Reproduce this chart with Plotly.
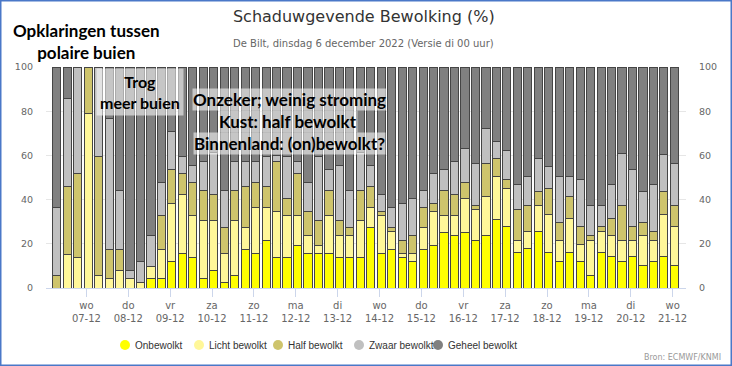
import plotly.graph_objects as go
import pandas as pd

# ---- data (percent of ensemble per cloud class, 6-hourly) ----
start_time = "2022-12-06 07:00"
n_steps = 60

onbewolkt = [0, 0, 0, 0, 0, 0, 0, 0, 0, 4.2, 4.2, 11.8, 15.6, 13.8, 4.2, 8.0, 2.4, 5.7, 17.5, 15.6,
             21.3, 13.8, 13.8, 19.4, 15.6, 15.6, 15.6, 13.8, 13.8, 13.8, 27.2, 15.6, 17.5, 13.8, 11.8, 17.5, 19.4, 25.1, 23.6, 25.1,
             21.6, 23.9, 31.1, 27.7, 15.9, 17.8, 25.4, 15.9, 12.2, 15.9, 12.2, 5.7, 15.9, 14.1, 12.2, 14.1, 10.3, 12.2, 14.1, 10.3]
licht = [0, 15.3, 13.8, 78.8, 5.7, 4.2, 8.0, 4.2, 2.4, 5.6, 13.3, 26.4, 26.9, 19.2, 26.5, 22.7, 13.2, 25.0, 9.7, 20.8,
         15.1, 20.7, 19.2, 13.6, 8.0, 3.8, 17.4, 9.8, 9.8, 16.9, 9.2, 17.4, 7.9, 1.8, 3.8, 9.7, 15.1, 7.9, 9.4, 15.4,
         13.9, 17.4, 19.5, 17.3, 5.7, 7.6, 12.1, 17.5, 9.4, 15.5, 7.6, 15.9, 9.5, 9.8, 9.4, 7.5, 13.6, 9.4, 19.3, 17.4]
half = [5.7, 30.8, 38.1, 21.2, 53.7, 13.3, 9.5, 0, 0, 0, 15.5, 15.5, 9.4, 14.8, 13.3, 11.8, 11.6, 13.3, 18.8, 11.4,
        9.7, 22.9, 7.5, 18.9, 10.9, 11.3, 11.0, 7.1, 3.6, 13.3, 9.7, 1.5, 1.8, 5.7, 8.0, 9.2, 3.7, 11.0, 9.5, 7.3,
        2.0, 15.1, 8.1, 4.3, 13.9, 12.1, 6.0, 11.6, 8.0, 9.9, 7.9, 2.3, 2.3, 7.5, 15.9, 6.1, 5.7, 3.8, 10.1, 9.8]
zwaar = [30.7, 39.8, 48.1, 0, 40.6, 59.0, 26.5, 3.8, 9.4, 13.8, 14.8, 17.3, 7.5, 7.8, 13.4, 18.9, 16.8, 13.4, 11.4, 9.6,
         13.3, 2.6, 18.9, 5.5, 13.3, 28.7, 9.7, 24.9, 16.8, 17.4, 9.5, 8.0, 9.2, 16.9, 16.9, 7.6, 13.7, 9.7, 14.9, 15.4,
         18.9, 15.9, 7.8, 13.1, 11.5, 13.1, 15.2, 9.9, 21.0, 9.3, 21.6, 13.6, 9.8, 15.6, 23.4, 25.7, 13.9, 21.6, 17.1, 18.9]
geheel = [63.6, 14.1, 0, 0, 0, 23.5, 56.0, 92.0, 88.2, 76.4, 52.2, 29.0, 40.6, 44.4, 42.6, 38.6, 56.0, 42.6, 42.6, 42.6,
          40.6, 40.0, 40.6, 42.6, 52.2, 40.6, 46.3, 44.4, 56.0, 38.6, 44.4, 57.5, 63.6, 61.8, 59.5, 56.0, 48.1, 46.3, 42.6, 36.8,
          43.6, 27.7, 33.5, 37.6, 53.0, 49.4, 41.3, 45.1, 49.4, 49.4, 50.7, 62.5, 62.5, 53.0, 39.1, 46.6, 56.5, 53.0, 39.4, 43.6]

series_names = ["Onbewolkt", "Licht bewolkt", "Half bewolkt", "Zwaar bewolkt", "Geheel bewolkt"]
series_values = [onbewolkt, licht, half, zwaar, geheel]
series_colors = ["#ffff00", "#fff799", "#cec46c", "#c0c0c0", "#808080"]

tick_days = ["wo", "do", "vr", "za", "zo", "ma", "di", "wo", "do", "vr", "za", "zo", "ma", "di", "wo"]
tick_dates = ["07-12", "08-12", "09-12", "10-12", "11-12", "12-12", "13-12", "14-12",
              "15-12", "16-12", "17-12", "18-12", "19-12", "20-12", "21-12"]
y_ticks = [0, 20, 40, 60, 80, 100]

times = pd.date_range(start_time, periods=n_steps, freq="6h")
tick_vals = pd.date_range("2022-12-07", "2022-12-21", freq="D")
tick_text = [f"{d}<br>{t}" for d, t in zip(tick_days, tick_dates)]

FONT = "DejaVu Sans"
BOLD = "Lato"
LEGFONT = "Liberation Sans"

fig = go.Figure()
for name, vals, col in zip(series_names, series_values, series_colors):
    fig.add_trace(go.Bar(x=times, y=vals, name=name, marker=dict(color=col, line=dict(color="#454545", width=1)),
                         showlegend=False))
# helper trace so the right-hand axis is drawn
fig.add_trace(go.Scatter(x=[times[0]], y=[None], yaxis="y2", mode="markers", showlegend=False, hoverinfo="skip"))

# plot area in pixels: left 46, right 686, top 67, bottom 288
L, R, T, B = 46, 686, 67, 288
W, H = R - L, B - T
def px(x):
    return (x - L) / W
def py(y):
    return (B - y) / H

BOX = "rgba(255,255,255,0.55)"
annotations = [
    dict(text="De Bilt, dinsdag 6 december 2022 (Versie di 00 uur)", x=px(363), y=py(44),
         font=dict(family=FONT, size=10, color="#666666")),
    dict(text="<b>Opklaringen tussen<br>polaire buien</b>", x=px(86), y=py(42),
         font=dict(family=BOLD, size=17, color="#000000")),
    dict(text="<b>Trog<br>meer buien</b>", x=px(140), y=py(92),
         font=dict(family=BOLD, size=16, color="#000000"), bgcolor=BOX, borderpad=3),
    dict(text="<b>Onzeker; weinig stroming</b>", x=px(289), y=py(99),
         font=dict(family=BOLD, size=17, color="#000000"), bgcolor=BOX, borderpad=0),
    dict(text="<b>Kust: half bewolkt</b>", x=px(288), y=py(121),
         font=dict(family=BOLD, size=17, color="#000000"), bgcolor=BOX, borderpad=0),
    dict(text="<b>Binnenland: (on)bewolkt?</b>", x=px(289), y=py(143),
         font=dict(family=BOLD, size=17, color="#000000"), bgcolor=BOX, borderpad=0),
    dict(text="Bron: ECMWF/KNMI", x=px(723), y=py(357), xanchor="right",
         font=dict(family=FONT, size=8, color="#999999")),
]

shapes = [dict(type="rect", xref="paper", yref="paper", x0=px(0.75), x1=px(731.25), y0=py(365.25), y1=py(0.75),
               line=dict(color="#4a78c8", width=1.5), layer="above")]

# legend drawn below the chart
legend_sym_x = [125, 199, 278, 359, 438]
legend_y = 345
for name, col, sx in zip(series_names, series_colors, legend_sym_x):
    shapes.append(dict(type="circle", xref="paper", yref="paper", xsizemode="pixel", ysizemode="pixel",
                       xanchor=px(sx), yanchor=py(legend_y), x0=-5, x1=5, y0=-5, y1=5,
                       fillcolor=col, line=dict(width=0)))
    annotations.append(dict(text=name, x=px(sx + 8), y=py(legend_y), xanchor="left",
                            font=dict(family=LEGFONT, size=10, color="#333333")))

for a in annotations:
    a.setdefault("xref", "paper")
    a.setdefault("yref", "paper")
    a.setdefault("xanchor", "center")
    a.setdefault("yanchor", "middle")
    a.setdefault("showarrow", False)

fig.update_layout(
    width=732, height=366, autosize=False,
    margin=dict(l=L, r=732 - R, t=T, b=366 - B, pad=0),
    paper_bgcolor="white", plot_bgcolor="white",
    barmode="stack", bargap=0.22,
    title=dict(text="Schaduwgevende Bewolking (%)", x=0.497, xref="container", xanchor="center",
               y=1 - 16 / 366, yref="container", yanchor="middle",
               font=dict(family=FONT, size=16, color="#333333")),
    xaxis=dict(type="date", range=["2022-12-06 00:50", "2022-12-21 07:40"],
               tickvals=tick_vals, ticktext=tick_text, ticks="outside", ticklen=8, tickcolor="#ccd6eb",
               showline=True, linecolor="#ccd6eb", linewidth=1, showgrid=False, zeroline=False,
               tickfont=dict(family=FONT, size=10, color="#666666")),
    yaxis=dict(range=[0, 100], tickvals=y_ticks, showgrid=True, gridcolor="#e6e6e6", zeroline=False,
               showline=False, ticks="", ticklabelstandoff=12,
               tickfont=dict(family=FONT, size=9.5, color="#666666")),
    yaxis2=dict(range=[0, 100], tickvals=y_ticks, overlaying="y", side="right", showgrid=False,
                zeroline=False, showline=False, ticks="", ticklabelstandoff=12,
                tickfont=dict(family=FONT, size=9.5, color="#666666")),
    annotations=annotations,
    shapes=shapes,
    showlegend=False,
)

fig.write_html("out.html", config={"displayModeBar": False},
               post_script="document.body.style.margin='0px';")
